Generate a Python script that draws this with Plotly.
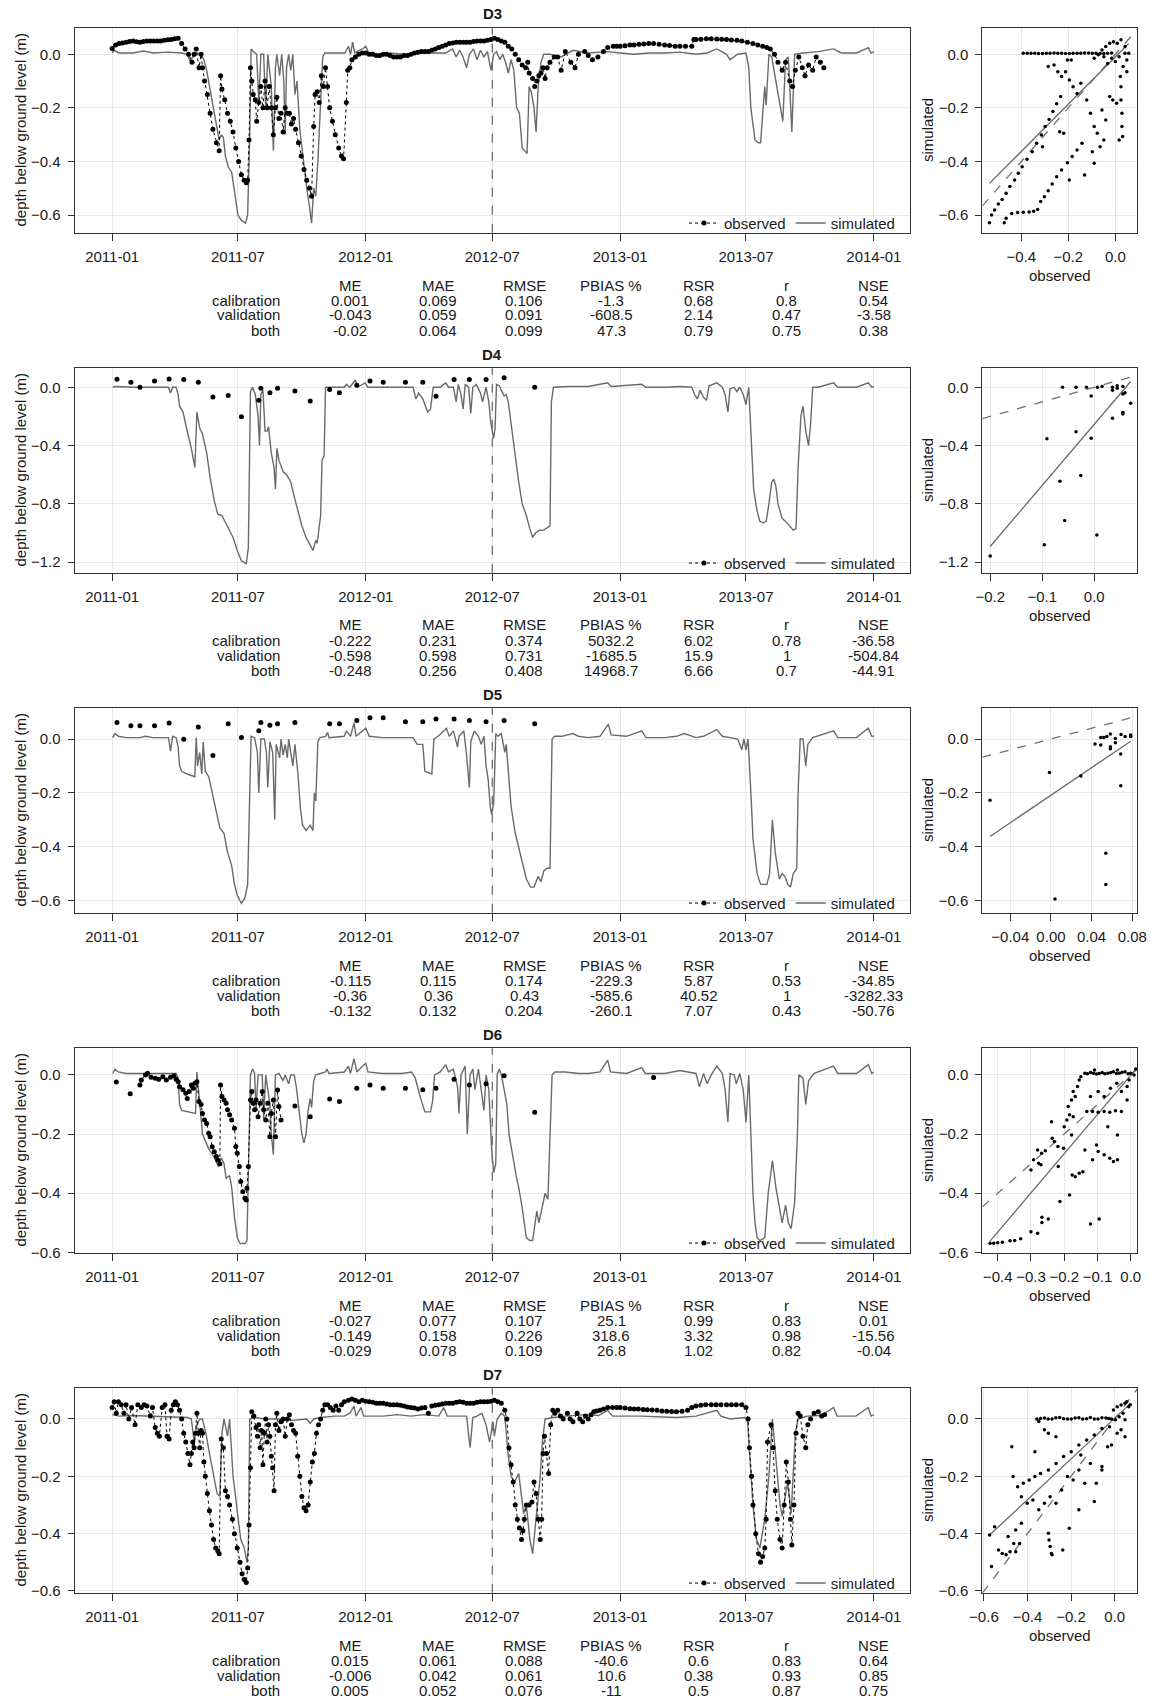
import pandas as pd
import plotly.graph_objects as go

W, H = 1151, 1701
FONT = "Liberation Sans, Arial, Helvetica, sans-serif"
DAY0 = pd.Timestamp("2011-01-01")

site_names = ["D3", "D4", "D5", "D6", "D7"]
x_tick_labels = ["2011-01", "2011-07", "2012-01", "2012-07", "2013-01", "2013-07", "2014-01"]
split_month = "2012-07"
stat_names = ["ME", "MAE", "RMSE", "PBIAS %", "RSR", "r", "NSE"]
period_names = ["calibration", "validation", "both"]

# ---------------- simulated series: (day since 2011-01-01, depth m) ----------------
d3_sim = [(0,0.005),(3,0.015),(10,0.005),(30,0.005),(45,0.012),(60,0.005),(80,0.008),(100,0.005),(108,0.0),(112,-0.025),
          (116,-0.01),(122,0.005),(128,0.0),(132,-0.02),(136,-0.06),(140,-0.12),(145,-0.2),(150,-0.27),(154,-0.32),(157,-0.3),
          (160,-0.31),(163,-0.38),(167,-0.42),(172,-0.44),(176,-0.52),(181,-0.6),(186,-0.62),(192,-0.63),(195,-0.6),(198,-0.3),
          (200,0.02),(203,0.01),(208,0.0),(211,-0.18),(214,0.0),(218,0.0),(221,-0.2),(224,0.0),(229,-0.12),(232,-0.36),
          (235,-0.05),(237,0.0),(241,-0.08),(244,0.0),(247,-0.1),(249,-0.3),(251,-0.05),(254,0.0),(257,-0.06),(260,0.0),
          (263,-0.15),(266,-0.1),(270,-0.28),(275,-0.4),(280,-0.5),(284,-0.57),(287,-0.63),(290,-0.5),(293,-0.53),(296,-0.4),
          (300,-0.15),(303,-0.01),(306,0.005),(320,0.005),(335,0.005),(340,0.03),(343,0.0),(346,0.045),(349,0.005),(360,0.02),
          (365,0.03),(370,0.0),(385,-0.01),(400,0.005),(420,0.0),(440,0.005),(460,0.005),(480,0.005),(490,0.02),(495,-0.01),
          (500,0.015),(505,-0.01),(510,-0.05),(514,0.0),(520,0.02),(525,-0.02),(530,0.015),(535,-0.01),(540,0.01),(545,-0.06),
          (549,0.0),(553,0.01),(558,-0.02),(562,0.0),(566,-0.03),(570,-0.07),(574,-0.02),(578,-0.06),(582,-0.2),(586,-0.22),
          (590,-0.35),(594,-0.36),(597,-0.37),(600,-0.12),(603,-0.14),(607,-0.2),(610,-0.29),(613,-0.12),(617,-0.03),(621,0.0),
          (630,0.0),(646,-0.01),(663,0.015),(685,0.005),(713,0.01),(731,0.005),(751,0.0),(773,0.005),(795,0.005),(817,0.008),
          (840,0.0),(856,0.005),(870,0.02),(884,0.0),(889,-0.02),(900,0.0),(912,0.005),(916,-0.05),(919,-0.2),(925,-0.32),
          (930,-0.33),(933,-0.33),(939,-0.12),(941,-0.19),(945,0.0),(949,-0.01),(955,-0.1),(961,-0.18),(965,-0.25),(969,-0.02),
          (973,-0.01),(978,-0.29),(982,0.0),(994,0.005),(1016,0.01),(1038,0.02),(1049,0.005),(1071,0.005),(1088,0.025),(1092,0.005),(1096,0.01)]

d4_sim = [(1,0.0),(4,0.005),(31,0.0),(59,0.0),(81,0.0),(84,-0.04),(87,0.0),(92,0.0),(95,-0.05),(97,-0.13),(102,-0.17),
          (108,-0.3),(114,-0.42),(119,-0.55),(122,-0.17),(126,-0.28),(130,-0.32),(136,-0.45),(141,-0.62),(147,-0.78),(152,-0.87),
          (158,-0.88),(163,-0.93),(169,-0.98),(174,-1.03),(180,-1.12),(186,-1.19),(193,-1.21),(196,-1.1),(199,-0.03),(202,0.0),
          (206,-0.05),(210,-0.2),(212,-0.4),(214,-0.05),(217,-0.02),(220,-0.3),(223,-0.3),(225,-0.27),(229,-0.45),(233,-0.55),
          (235,-0.7),(237,-0.42),(240,-0.5),(246,-0.58),(251,-0.6),(257,-0.65),(262,-0.75),(268,-0.87),(273,-0.95),(279,-1.03),
          (284,-1.08),(289,-1.12),(293,-1.05),(295,-1.07),(300,-0.88),(302,-0.5),(305,-0.47),(307,0.0),(312,0.0),(334,0.0),
          (337,0.02),(342,0.0),(350,0.05),(353,0.0),(364,0.03),(368,0.0),(389,0.0),(417,0.0),(433,0.0),(437,-0.08),(441,-0.04),
          (447,-0.08),(454,-0.17),(458,-0.15),(462,0.0),(472,0.0),(480,0.03),(484,0.0),(491,0.0),(495,-0.1),(498,0.02),(502,-0.05),
          (505,-0.15),(508,0.02),(513,0.0),(516,-0.18),(519,0.0),(524,0.02),(530,-0.04),(533,-0.1),(538,0.0),(542,-0.1),(545,-0.25),
          (549,-0.35),(551,-0.28),(553,0.02),(557,0.01),(561,-0.03),(564,-0.06),(567,-0.05),(570,-0.1),(574,-0.25),(579,-0.45),
          (585,-0.65),(590,-0.8),(596,-0.88),(601,-0.97),(605,-1.03),(609,-1.0),(615,-0.98),(621,-0.98),(627,-0.96),(630,-0.95),
          (632,-0.1),(635,0.0),(657,0.005),(685,0.005),(713,0.03),(718,0.005),(762,0.02),(768,0.0),(795,0.0),(817,0.005),(834,0.0),
          (838,-0.05),(842,-0.08),(846,-0.02),(851,-0.07),(855,-0.09),(859,0.01),(870,0.03),(878,0.0),(882,-0.05),(886,-0.17),
          (889,-0.01),(895,0.0),(899,-0.03),(903,0.0),(908,-0.05),(912,-0.12),(916,0.0),(920,-0.4),(923,-0.7),(928,-0.85),(932,-0.92),
          (937,-0.93),(941,-0.92),(945,-0.8),(949,-0.65),(952,-0.63),(955,-0.68),(958,-0.8),(964,-0.9),(969,-0.92),(975,-0.95),
          (980,-0.98),(984,-0.97),(987,-0.55),(991,-0.2),(994,-0.13),(998,-0.3),(1002,-0.4),(1005,-0.25),(1008,0.0),(1016,0.0),
          (1038,0.03),(1044,0.0),(1071,0.0),(1088,0.03),(1093,0.0),(1096,0.005)]

d5_sim = [(1,0.005),(4,0.02),(9,0.01),(20,0.005),(40,0.005),(48,0.01),(59,0.005),(81,0.005),(84,-0.045),(87,0.01),(92,0.005),
          (95,-0.03),(97,-0.1),(100,-0.12),(108,-0.13),(119,-0.14),(121,0.005),(123,-0.1),(126,-0.05),(129,-0.13),(131,-0.01),
          (134,-0.12),(139,-0.14),(144,-0.2),(150,-0.26),(155,-0.33),(161,-0.35),(166,-0.42),(172,-0.47),(176,-0.54),(180,-0.58),
          (186,-0.61),(191,-0.59),(195,-0.54),(198,-0.2),(200,0.01),(205,0.005),(209,-0.05),(211,-0.2),(214,0.0),(219,0.0),
          (222,-0.05),(224,-0.18),(227,-0.01),(231,-0.05),(234,-0.3),(236,-0.02),(241,-0.07),(243,0.0),(246,-0.06),(249,-0.02),
          (252,-0.07),(254,0.0),(257,-0.05),(260,-0.1),(263,-0.02),(267,-0.12),(271,-0.26),(274,-0.32),(279,-0.34),(285,-0.32),
          (289,-0.34),(291,-0.2),(293,-0.23),(296,-0.01),(299,0.005),(307,0.01),(310,0.025),(312,0.005),(334,0.01),(337,0.03),
          (343,0.01),(348,0.06),(351,0.01),(365,0.04),(370,0.01),(389,0.005),(417,0.005),(433,0.005),(439,-0.02),(447,-0.02),
          (450,-0.12),(460,-0.13),(463,0.0),(469,0.01),(477,0.03),(481,0.04),(485,0.01),(491,0.03),(497,-0.03),(499,0.01),(506,0.03),
          (510,-0.06),(514,-0.18),(516,-0.01),(521,0.03),(527,0.01),(531,-0.02),(535,0.01),(538,-0.1),(541,-0.15),(544,-0.25),
          (546,-0.28),(549,-0.24),(552,0.02),(555,0.01),(560,0.02),(565,-0.05),(567,-0.02),(571,-0.15),(574,-0.25),(580,-0.35),
          (585,-0.4),(591,-0.47),(596,-0.52),(602,-0.55),(607,-0.55),(613,-0.51),(617,-0.53),(621,-0.49),(626,-0.48),(630,-0.48),
          (633,0.0),(637,0.01),(647,0.01),(663,0.02),(671,0.01),(685,0.005),(702,0.01),(714,0.055),(718,0.015),(740,0.01),(762,0.03),
          (768,0.005),(795,0.005),(812,0.01),(823,0.02),(840,0.005),(851,0.01),(870,0.035),(878,0.01),(889,0.005),(900,0.0),
          (906,-0.04),(909,0.0),(912,-0.04),(915,0.0),(920,-0.25),(922,-0.37),(928,-0.5),(933,-0.54),(942,-0.54),(946,-0.5),
          (950,-0.3),(954,-0.42),(960,-0.52),(964,-0.5),(968,-0.51),(972,-0.54),(976,-0.55),(980,-0.5),(985,-0.48),(987,-0.2),
          (990,0.0),(994,0.0),(998,-0.1),(1001,-0.02),(1008,0.005),(1038,0.03),(1044,0.005),(1071,0.005),(1088,0.04),(1093,0.01),(1096,0.01)]

d6_sim = [(1,0.005),(4,0.02),(9,0.01),(20,0.005),(59,0.005),(92,0.005),(95,-0.01),(97,-0.1),(100,-0.12),(108,-0.125),
          (120,-0.13),(122,0.01),(125,-0.08),(130,-0.2),(139,-0.25),(147,-0.28),(153,-0.31),(157,-0.28),(161,-0.3),(164,-0.35),
          (169,-0.34),(172,-0.38),(176,-0.48),(180,-0.55),(184,-0.57),(191,-0.57),(194,-0.56),(196,-0.3),(199,0.0),(202,0.02),
          (205,0.005),(207,-0.12),(210,0.0),(216,0.0),(218,-0.15),(221,0.0),(227,-0.1),(229,-0.2),(232,-0.27),(235,0.0),
          (240,0.005),(246,-0.02),(249,0.0),(254,-0.03),(257,0.0),(262,0.0),(265,-0.04),(268,-0.1),(273,-0.2),(276,-0.23),
          (279,-0.2),(282,-0.12),(285,-0.08),(287,-0.11),(290,-0.02),(293,0.0),(307,0.01),(309,0.02),(312,0.005),(334,0.01),
          (340,0.03),(343,0.005),(348,0.055),(352,0.01),(365,0.04),(368,0.01),(389,0.005),(417,0.005),(431,0.01),(436,-0.01),
          (440,-0.05),(444,-0.08),(450,-0.125),(458,-0.125),(461,-0.09),(464,0.0),(472,0.01),(480,0.035),(484,0.01),(491,0.02),
          (497,-0.04),(499,-0.13),(502,0.0),(508,0.03),(511,-0.2),(515,0.0),(519,0.02),(522,-0.05),(527,0.02),(531,-0.05),
          (535,-0.12),(538,0.0),(542,-0.05),(546,-0.25),(549,-0.33),(552,-0.3),(554,0.0),(557,0.02),(560,0.0),(564,-0.05),
          (568,-0.1),(571,-0.2),(576,-0.27),(582,-0.35),(585,-0.38),(590,-0.45),(596,-0.55),(601,-0.56),(605,-0.56),(608,-0.5),
          (611,-0.46),(614,-0.5),(618,-0.45),(623,-0.4),(627,-0.42),(630,-0.2),(633,0.0),(637,0.01),(652,0.01),(671,0.005),
          (685,0.005),(702,0.01),(713,0.05),(717,0.01),(740,0.005),(762,0.025),(767,0.005),(795,0.005),(817,0.015),(840,0.005),
          (845,-0.04),(851,0.005),(856,-0.03),(862,0.0),(870,0.03),(878,0.005),(882,-0.05),(886,-0.16),(889,0.005),(895,0.0),
          (898,-0.03),(903,0.005),(908,-0.05),(912,-0.16),(916,0.0),(919,-0.2),(922,-0.4),(925,-0.5),(928,-0.55),(932,-0.56),
          (939,-0.55),(944,-0.4),(950,-0.29),(955,-0.38),(960,-0.45),(964,-0.5),(969,-0.44),(973,-0.5),(977,-0.52),(982,-0.43),
          (986,-0.2),(988,0.0),(994,-0.01),(998,-0.1),(1002,-0.02),(1010,0.005),(1038,0.03),(1044,0.005),(1071,0.005),(1088,0.035),
          (1093,0.005),(1096,0.01)]

d7_sim = [(0,0.015),(10,0.01),(30,0.012),(50,0.01),(70,0.01),(90,0.008),(108,0.005),(114,0.0),(118,-0.08),(122,-0.02),
          (126,0.0),(130,0.0),(135,-0.05),(140,-0.12),(146,-0.2),(151,-0.26),(155,-0.27),(158,-0.05),(161,0.0),(166,-0.06),
          (169,0.0),(174,-0.2),(180,-0.32),(185,-0.42),(190,-0.45),(194,-0.5),(196,-0.45),(198,0.0),(205,0.005),(220,0.0),
          (240,0.0),(260,-0.005),(280,0.0),(285,-0.015),(290,0.0),(300,0.005),(320,0.01),(334,0.01),(342,0.02),(348,0.045),
          (351,0.01),(358,0.04),(362,0.01),(370,0.01),(390,0.01),(410,0.015),(430,0.01),(450,0.015),(470,0.01),(477,0.04),
          (482,0.01),(495,0.01),(510,0.01),(515,-0.1),(519,0.005),(525,0.01),(532,0.02),(538,-0.02),(543,-0.08),(548,-0.01),
          (550,-0.06),(554,0.0),(560,0.02),(565,0.01),(570,-0.13),(574,-0.2),(579,-0.22),(585,-0.19),(588,-0.25),(592,-0.33),
          (596,-0.3),(601,-0.42),(605,-0.47),(608,-0.4),(612,-0.3),(616,-0.2),(619,-0.08),(623,0.0),(635,0.005),(652,0.01),
          (680,0.015),(700,0.012),(713,0.03),(720,0.01),(762,0.01),(790,0.008),(812,0.005),(840,0.01),(870,0.03),(876,0.01),
          (889,0.0),(911,0.005),(914,0.0),(918,-0.15),(922,-0.3),(927,-0.42),(932,-0.45),(939,-0.35),(945,-0.2),(950,0.0),
          (955,-0.15),(961,-0.3),(964,-0.34),(972,-0.22),(977,-0.33),(983,-0.05),(987,0.0),(1000,0.01),(1020,0.012),(1038,0.04),
          (1043,0.01),(1070,0.01),(1088,0.04),(1092,0.01),(1096,0.015)]

# ---------------- observed series: (day since 2011-01-01, depth m); (None, None) = gap ----------------
d3_obs = [(0,0.022),(5,0.035),(10,0.04),(15,0.042),(20,0.045),(25,0.048),(30,0.05),(35,0.047),(40,0.045),(45,0.048),(50,0.05),
          (55,0.05),(60,0.05),(65,0.05),(70,0.05),(75,0.052),(80,0.054),(85,0.055),(90,0.058),(95,0.06),
          (100,0.04),(105,0.02),(110,0.0),(115,-0.03),(118,0.0),(121,0.02),(125,-0.05),(128,0.0),(130,-0.05),(133,-0.1),(137,-0.15),
          (141,-0.22),(145,-0.28),(150,-0.33),(154,-0.36),(156,-0.08),(158,-0.13),(162,-0.17),(166,-0.22),(170,-0.25),(174,-0.29),
          (178,-0.35),(182,-0.4),(186,-0.45),(190,-0.47),(193,-0.48),(195,-0.47),(197,-0.32),(199,-0.05),(201,-0.1),(203,-0.15),
          (206,-0.17),(208,-0.25),(211,-0.18),(214,-0.12),(217,-0.2),(220,-0.1),(223,-0.2),(226,-0.12),(229,-0.2),(232,-0.3),
          (235,-0.2),(237,-0.16),(240,-0.24),(243,-0.22),(246,-0.29),(249,-0.2),(252,-0.22),(255,-0.22),(258,-0.26),(261,-0.24),
          (264,-0.28),(268,-0.33),(272,-0.38),(276,-0.43),(280,-0.47),(284,-0.5),(287,-0.53),(290,-0.27),(292,-0.15),(295,-0.14),
          (298,-0.18),(301,-0.08),(304,-0.12),(307,-0.05),(310,-0.12),(313,-0.2),(317,-0.25),(321,-0.3),(326,-0.35),(330,-0.38),
          (333,-0.39),(337,-0.18),(339,-0.06),(342,-0.05),(345,-0.02),(350,-0.01),(355,0.0),(360,0.005),(365,0.005),(370,0.0),
          (375,0.0),(380,-0.005),(385,-0.005),(390,0.0),(395,0.0),(400,-0.005),(405,-0.01),(410,-0.01),(415,-0.01),(420,-0.005),
          (425,-0.005),(430,0.0),(435,0.005),(440,0.008),(445,0.01),(450,0.01),(455,0.01),(460,0.015),(465,0.02),(470,0.025),
          (475,0.03),(480,0.035),(485,0.04),(490,0.042),(495,0.045),(500,0.045),(505,0.045),(510,0.045),(515,0.045),(520,0.048),
          (525,0.05),(530,0.05),(535,0.05),(540,0.052),(545,0.055),(550,0.06),(555,0.055),(560,0.05),(565,0.045),(570,0.03),
          (575,0.02),(580,0.0),(585,-0.02),(590,-0.04),(595,-0.05),(598,-0.03),(600,-0.07),(605,-0.09),(608,-0.12),(611,-0.1),
          (614,-0.08),(617,-0.07),(620,-0.05),(623,-0.09),(626,-0.05),(630,-0.03),(636,-0.01),(641,-0.01),(646,-0.06),(652,0.01),
          (660,-0.03),(666,-0.05),(671,0.0),(680,0.01),(685,-0.005),(691,-0.02),(699,-0.01),(707,0.01),(713,0.025),(721,0.03),
          (726,0.03),(731,0.03),(738,0.032),(745,0.035),(751,0.035),(758,0.037),(765,0.038),(772,0.04),(779,0.04),(787,0.037),
          (795,0.035),(802,0.033),(810,0.03),(817,0.03),(825,0.03),(834,0.03),(837,0.055),(840,0.055),(847,0.056),(855,0.058),
          (862,0.058),(870,0.057),(877,0.056),(884,0.055),(891,0.053),(899,0.052),(906,0.05),(914,0.045),(922,0.04),(929,0.035),
          (936,0.03),(942,0.025),(947,0.02),(953,0.0),(958,-0.03),(964,-0.06),(969,-0.03),(975,-0.1),(979,-0.12),(983,-0.06),
          (988,-0.01),(993,-0.05),(997,-0.08),(1002,-0.04),(1008,-0.06),(1013,-0.01),(1019,-0.03),(1024,-0.05)]

d4_obs = [(7,0.055),(27,0.034),(40,0.0),(61,0.043),(82,0.057),(103,0.053),(124,0.034),(145,-0.066),(167,-0.057),(186,-0.203),
          (211,-0.089),(214,-0.007),(227,-0.037),(238,-0.007),(263,-0.025),(285,-0.094),(313,-0.016),(327,-0.037),(352,0.014),
          (371,0.043),(390,0.034),(422,0.034),(447,0.034),(466,-0.062),(492,0.053),(514,0.053),(538,0.053),(564,0.066),(608,0.0)]

d5_obs = [(7,0.061),(27,0.049),(40,0.049),(61,0.049),(82,0.059),(103,-0.001),(124,0.045),(145,-0.061),(167,0.057),(186,0.006),
          (211,0.031),(214,0.061),(227,0.051),(238,0.057),(263,0.061),(313,0.057),(327,0.057),(352,0.069),(371,0.079),(390,0.079),
          (422,0.064),(447,0.064),(466,0.074),(492,0.074),(514,0.069),(538,0.064),(564,0.069),(608,0.057)]

d6_obs = [(6,-0.024),(None,None),(26,-0.064),(None,None),
          (40,-0.034),(42,-0.017),(48,0.0),(51,0.006),(56,-0.008),(62,-0.011),(67,-0.015),(73,-0.006),(78,-0.017),(84,-0.008),
          (89,-0.003),(92,-0.015),(95,-0.023),(97,-0.04),(102,-0.05),(106,-0.062),(108,-0.08),(111,-0.056),(114,-0.034),(117,-0.045),
          (119,-0.028),(122,-0.023),(125,-0.09),(128,-0.1),(130,-0.13),(133,-0.152),(136,-0.164),(139,-0.197),(141,-0.209),
          (144,-0.243),(147,-0.26),(150,-0.276),(152,-0.288),(155,-0.3),(156,-0.034),(158,-0.073),(161,-0.085),(164,-0.096),
          (166,-0.118),(169,-0.135),(172,-0.152),(176,-0.18),(178,-0.242),(180,-0.265),(183,-0.31),(185,-0.36),(188,-0.395),
          (191,-0.417),(193,-0.423),(194,-0.383),(196,-0.31),(199,-0.085),(201,-0.056),(203,-0.096),(205,-0.118),(207,-0.085),
          (210,-0.141),(213,-0.096),(216,-0.056),(218,-0.118),(221,-0.152),(224,-0.096),(227,-0.209),(229,-0.13),(232,-0.085),
          (235,-0.209),(238,-0.051),(240,-0.107),(243,-0.152),(None,None),
          (263,-0.105),(None,None),(285,-0.141),(None,None),(313,-0.081),(None,None),(327,-0.09),(None,None),(352,-0.045),(None,None),
          (371,-0.034),(None,None),(390,-0.045),(None,None),(422,-0.045),(None,None),(447,-0.05),(None,None),(466,-0.045),(None,None),
          (492,-0.015),(None,None),(514,-0.034),(None,None),(538,-0.03),(None,None),(564,-0.003),(None,None),(608,-0.126),(None,None),
          (779,-0.009)]

d7_obs = [(0,0.04),(3,0.06),(6,0.02),(9,0.06),(13,0.05),(17,0.02),(20,0.05),(24,0.0),(28,0.04),(33,-0.02),(37,0.05),(42,0.04),
          (46,0.05),(50,0.045),(55,0.01),(58,0.04),(62,-0.03),(65,-0.05),(68,-0.06),(72,0.04),(76,0.05),(79,-0.06),(82,-0.07),
          (85,0.03),(88,0.05),(91,0.06),(94,0.05),(97,0.03),(100,0.0),(103,-0.05),(106,-0.08),(109,-0.12),(112,-0.16),(114,-0.12),
          (116,-0.08),(118,-0.1),(120,-0.05),(122,0.02),(124,-0.05),(126,-0.1),(128,-0.04),(130,-0.05),(132,-0.15),(134,-0.2),
          (137,-0.26),(140,-0.32),(143,-0.37),(146,-0.42),(149,-0.45),(152,-0.46),(154,-0.47),(157,-0.07),(160,-0.1),(163,-0.25),
          (166,-0.27),(169,-0.3),(173,-0.35),(176,-0.4),(180,-0.45),(184,-0.5),(187,-0.54),(190,-0.56),(193,-0.57),(195,-0.52),
          (197,-0.37),(199,-0.17),(201,0.025),(204,0.01),(207,-0.03),(209,-0.06),(211,-0.02),(213,-0.1),(215,-0.04),(217,-0.16),
          (219,-0.05),(221,0.0),(223,-0.08),(225,-0.02),(227,-0.06),(229,-0.13),(231,-0.17),(233,-0.25),(235,-0.02),(237,0.02),
          (240,-0.04),(243,-0.01),(246,0.0),(249,-0.06),(252,0.0),(255,0.015),(258,-0.02),(261,-0.04),(264,-0.05),(267,-0.13),
          (270,-0.2),(273,-0.27),(276,-0.31),(279,-0.32),(282,-0.3),(285,-0.22),(288,-0.15),(291,-0.12),(294,-0.05),(297,-0.02),
          (300,0.0),(303,0.03),(306,0.05),(310,0.05),(314,0.04),(318,0.03),(322,0.045),(326,0.03),(330,0.05),(334,0.06),(340,0.065),
          (345,0.07),(350,0.065),(355,0.06),(360,0.065),(365,0.062),(370,0.06),(375,0.058),(380,0.055),(385,0.055),(390,0.055),
          (395,0.052),(400,0.05),(405,0.05),(410,0.05),(415,0.048),(420,0.045),(425,0.042),(430,0.04),(435,0.038),(440,0.035),
          (445,0.038),(450,0.04),(455,0.02),(460,0.045),(465,0.048),(470,0.05),(475,0.052),(480,0.055),(485,0.055),(490,0.055),
          (495,0.058),(500,0.06),(505,0.058),(510,0.055),(515,0.055),(520,0.055),(525,0.058),(530,0.06),(535,0.06),(540,0.06),
          (545,0.062),(550,0.065),(555,0.06),(560,0.055),(565,0.03),(568,0.0),(571,-0.1),(574,-0.16),(577,-0.22),(580,-0.3),
          (583,-0.35),(586,-0.38),(589,-0.42),(591,-0.39),(593,-0.35),(596,-0.3),(600,-0.3),(604,-0.29),(607,-0.22),(610,-0.26),
          (613,-0.35),(616,-0.42),(618,-0.35),(620,-0.12),(622,-0.06),(625,-0.12),(628,-0.19),(631,-0.02),(634,0.03),(637,0.02),
          (641,0.03),(645,0.01),(649,0.0),(655,0.02),(659,0.0),(663,-0.01),(669,0.02),(673,0.0),(677,-0.01),(681,0.01),(685,0.0),
          (689,0.015),(693,0.025),(697,0.028),(702,0.03),(707,0.035),(713,0.04),(720,0.04),(726,0.04),(731,0.04),(738,0.038),
          (745,0.036),(751,0.035),(757,0.035),(764,0.033),(770,0.032),(777,0.031),(784,0.03),(791,0.028),(798,0.027),(805,0.026),
          (812,0.025),(820,0.027),(828,0.03),(834,0.04),(840,0.045),(847,0.048),(854,0.05),(862,0.05),(869,0.05),(876,0.05),
          (884,0.05),(891,0.05),(898,0.05),(906,0.05),(912,0.04),(915,0.0),(917,-0.1),(920,-0.2),(922,-0.3),(926,-0.4),(930,-0.47),
          (933,-0.5),(936,-0.48),(939,-0.45),(941,-0.35),(943,-0.08),(948,-0.02),(951,-0.1),(954,-0.25),(957,-0.35),(961,-0.42),
          (964,-0.45),(967,-0.3),(970,-0.15),(973,-0.22),(976,-0.35),(978,-0.44),(981,-0.3),(984,-0.05),(987,0.02),(990,0.01),
          (994,-0.06),(998,-0.1),(1001,-0.02),(1005,0.0),(1010,0.02),(1016,0.025),(1021,0.01),(1025,0.015)]

# ---------------- scatter panels: (observed, simulated) ----------------
d3_scatter = [(-0.392,0.004),(-0.359,0.004),(-0.327,0.003),(-0.294,0.004),(-0.261,0.005),(-0.229,0.004),(-0.196,0.003),
              (-0.163,0.004),(-0.131,0.005),(-0.098,0.004),(-0.065,0.003),(-0.033,0.004),(-0.016,0.005),
              (-0.375,0.004),(-0.343,0.004),(-0.31,0.003),(-0.278,0.004),(-0.245,0.004),(-0.212,0.003),(-0.18,0.004),
              (-0.147,0.004),(-0.114,0.005),(-0.082,0.004),(-0.049,0.003),
              (-0.057,0.016),(-0.041,0.029),(-0.024,0.041),(-0.008,0.047),(0.008,0.041),(0.024,0.054),(0.041,0.029),(0.057,0.004),
              (0.049,-0.021),(0.033,-0.046),(0.016,-0.009),(0.0,-0.027),(-0.016,-0.015),(-0.033,-0.034),(-0.049,-0.009),
              (-0.073,-0.002),(-0.09,-0.015),(0.049,-0.065),(0.041,0.004),
              (-0.536,-0.629),(-0.527,-0.6),(-0.514,-0.581),(-0.498,-0.559),(-0.482,-0.542),(-0.465,-0.519),(-0.449,-0.494),
              (-0.429,-0.469),(-0.413,-0.444),(-0.397,-0.42),(-0.376,-0.392),(-0.354,-0.364),(-0.335,-0.332),(-0.315,-0.301),
              (-0.299,-0.27),(-0.282,-0.243),(-0.266,-0.214),(-0.25,-0.185),(-0.233,-0.158),
              (-0.473,-0.629),(-0.465,-0.612),(-0.441,-0.594),(-0.416,-0.591),(-0.392,-0.59),(-0.367,-0.589),(-0.348,-0.586),
              (-0.331,-0.579),(-0.318,-0.55),(-0.302,-0.532),(-0.286,-0.509),(-0.269,-0.484),(-0.25,-0.457),(-0.229,-0.432),
              (-0.204,-0.405),(-0.184,-0.382),(-0.163,-0.357),(-0.142,-0.332),
              (-0.286,-0.046),(-0.261,-0.04),(-0.245,-0.065),(-0.229,-0.083),(-0.212,-0.065),(-0.196,-0.096),(-0.18,-0.121),
              (-0.163,-0.146),(-0.147,-0.108),(-0.122,-0.171),(-0.106,-0.22),(-0.09,-0.27),(-0.077,-0.295),(-0.057,-0.208),
              (-0.041,-0.245),(-0.024,-0.158),(-0.011,-0.171),(0.005,-0.183),(0.021,-0.083),(0.024,-0.121),(0.024,-0.171),
              (0.028,-0.22),(0.028,-0.27),(0.031,-0.307),(0.016,-0.32),(-0.131,-0.451),(-0.196,-0.469),(-0.09,-0.407),
              (-0.065,-0.345),(-0.049,-0.32),(-0.098,-0.364),(-0.22,-0.295),(-0.237,-0.289),(-0.31,-0.345),(-0.204,-0.021),(-0.188,-0.021)]

d4_scatter = [(-0.061,0.0),(-0.035,0.0),(-0.015,0.0),(-0.006,-0.06),(0.006,0.0),(0.015,0.005),(0.035,0.0),(0.035,-0.02),
              (0.044,0.01),(0.044,-0.007),(0.055,0.005),(0.055,-0.046),(0.059,-0.037),(0.035,-0.213),(0.055,-0.174),(0.055,-0.183),
              (0.07,-0.11),(-0.091,-0.354),(-0.035,-0.306),(-0.006,-0.35),(-0.026,-0.606),(-0.066,-0.645),(-0.057,-0.914),
              (-0.096,-1.081),(0.005,-1.013),(-0.2,-1.157)]

d5_scatter = [(-0.06,-0.227),(-0.0015,-0.124),(0.0294,-0.137),(0.004,-0.594),(0.054,-0.424),(0.054,-0.54),(0.0687,-0.174),
              (0.0687,-0.056),(0.0434,-0.019),(0.049,-0.022),(0.049,0.006),(0.052,0.006),(0.055,0.009),(0.0585,0.019),
              (0.0585,-0.029),(0.0585,-0.036),(0.0634,0.002),(0.0634,-0.014),(0.069,0.017),(0.073,0.009),(0.0785,0.015),(0.0785,0.009)]

d6_scatter = [(-0.423,-0.569),(-0.412,-0.569),(-0.4,-0.567),(-0.386,-0.566),(-0.363,-0.561),(-0.349,-0.56),(-0.331,-0.554),
              (-0.3,-0.53),(-0.28,-0.535),(-0.267,-0.481),(-0.267,-0.499),(-0.248,-0.487),(-0.213,-0.428),(-0.184,-0.406),
              (-0.121,-0.504),(-0.095,-0.487),(-0.28,-0.254),(-0.268,-0.265),(-0.257,-0.256),(-0.292,-0.287),(-0.277,-0.299),
              (-0.236,-0.214),(-0.23,-0.225),(-0.219,-0.242),(-0.218,-0.31),(-0.202,-0.248),(-0.238,-0.158),(-0.2,-0.175),
              (-0.192,-0.152),(-0.188,-0.107),(-0.178,-0.085),(-0.173,-0.056),(-0.167,-0.073),(-0.16,-0.039),(-0.155,-0.017),
              (-0.15,-0.006),(-0.176,-0.338),(-0.167,-0.344),(-0.155,-0.332),(-0.144,-0.327),(-0.184,-0.135),(-0.173,-0.141),
              (-0.138,0.006),(-0.121,0.008),(-0.103,0.003),(-0.086,0.008),(-0.069,0.006),(-0.052,0.011),(-0.034,0.006),
              (-0.017,0.011),(0.0,0.006),(-0.109,0.017),(-0.04,0.017),(0.01,0.0),(0.015,0.02),
              (-0.13,0.004),(-0.112,0.006),(-0.095,0.005),(-0.078,0.004),(-0.06,0.008),(-0.043,0.005),(-0.026,0.009),(-0.008,0.004),
              (-0.132,-0.124),(-0.115,-0.124),(-0.098,-0.126),(-0.08,-0.124),(-0.063,-0.126),(-0.046,-0.121),(-0.028,-0.124),
              (-0.121,-0.073),(-0.098,-0.056),(-0.08,-0.073),(-0.061,-0.045),(-0.042,-0.028),(-0.028,-0.056),(-0.011,-0.039),
              (-0.005,-0.017),(-0.04,-0.203),(-0.069,-0.175),(-0.103,-0.237),(-0.098,-0.259),(-0.08,-0.27),(-0.063,-0.282),
              (-0.052,-0.293),(-0.04,-0.287),(-0.115,-0.287),(-0.138,-0.254),(-0.178,-0.203),(-0.27,-0.304),(-0.3,-0.321),(-0.011,-0.085)]

d7_scatter = [(-0.357,0.0),(-0.322,0.003),(-0.287,0.0),(-0.252,0.005),(-0.216,0.0),(-0.181,0.003),(-0.146,0.0),(-0.111,0.005),
              (-0.076,0.0),(-0.04,0.003),(-0.014,0.0),(-0.34,0.002),(-0.305,0.0),(-0.27,0.004),(-0.234,0.001),(-0.199,0.0),
              (-0.164,0.004),(-0.128,0.001),(-0.093,0.0),(-0.058,0.004),(-0.027,0.002),
              (-0.005,0.031),(0.012,0.043),(0.03,0.049),(0.048,0.055),(0.056,0.06),(0.065,0.043),(0.039,0.02),(0.021,0.008),
              (0.004,-0.003),(0.048,-0.003),(0.03,-0.038),(0.048,-0.062),(0.012,-0.05),(-0.023,-0.027),(0.072,0.05),
              (-0.322,-0.038),(-0.304,-0.05),(-0.269,-0.062),(-0.348,-0.009),(-0.366,-0.114),(-0.472,-0.097),(-0.466,-0.201),
              (-0.445,-0.236),(-0.419,-0.224),(-0.392,-0.213),(-0.366,-0.201),(-0.34,-0.19),(-0.304,-0.178),(-0.269,-0.155),
              (-0.234,-0.131),(-0.199,-0.114),(-0.164,-0.091),(-0.128,-0.073),(-0.093,-0.056),(-0.058,-0.033),
              (-0.428,-0.271),(-0.401,-0.294),(-0.375,-0.283),(-0.348,-0.317),(-0.322,-0.294),(-0.296,-0.271),(-0.269,-0.294),
              (-0.243,-0.248),(-0.216,-0.201),(-0.19,-0.213),(-0.164,-0.178),(-0.137,-0.224),(-0.111,-0.155),(-0.084,-0.224),
              (-0.058,-0.178),(-0.032,-0.097),
              (-0.574,-0.405),(-0.565,-0.515),(-0.551,-0.376),(-0.533,-0.457),(-0.516,-0.469),(-0.498,-0.474),(-0.48,-0.463),
              (-0.463,-0.434),(-0.454,-0.463),(-0.436,-0.434),(-0.489,-0.41),(-0.454,-0.387),(-0.428,-0.364),
              (-0.304,-0.399),(-0.301,-0.422),(-0.296,-0.445),(-0.29,-0.469),(-0.287,-0.474),(-0.238,-0.457),
              (-0.208,-0.381),(-0.164,-0.317),(-0.093,-0.288),(-0.058,-0.166),(-0.014,-0.091),(-0.155,-0.126)]

# linear fit of simulated on observed (slope, intercept)
fit_slope = [0.88, 4.19, 2.555, 1.3256, 0.71]
fit_intercept = [-0.0102, -0.254, -0.2087, -0.001, 0.0025]

# goodness-of-fit tables: rows calibration / validation / both; cols = stat_names
d3_stats = [[0.001, 0.069, 0.106, -1.3, 0.68, 0.8, 0.54],
            [-0.043, 0.059, 0.091, -608.5, 2.14, 0.47, -3.58],
            [-0.02, 0.064, 0.099, 47.3, 0.79, 0.75, 0.38]]
d4_stats = [[-0.222, 0.231, 0.374, 5032.2, 6.02, 0.78, -36.58],
            [-0.598, 0.598, 0.731, -1685.5, 15.9, 1, -504.84],
            [-0.248, 0.256, 0.408, 14968.7, 6.66, 0.7, -44.91]]
d5_stats = [[-0.115, 0.115, 0.174, -229.3, 5.87, 0.53, -34.85],
            [-0.36, 0.36, 0.43, -585.6, 40.52, 1, -3282.33],
            [-0.132, 0.132, 0.204, -260.1, 7.07, 0.43, -50.76]]
d6_stats = [[-0.027, 0.077, 0.107, 25.1, 0.99, 0.83, 0.01],
            [-0.149, 0.158, 0.226, 318.6, 3.32, 0.98, -15.56],
            [-0.029, 0.078, 0.109, 26.8, 1.02, 0.82, -0.04]]
d7_stats = [[0.015, 0.061, 0.088, -40.6, 0.6, 0.83, 0.64],
            [-0.006, 0.042, 0.061, 10.6, 0.38, 0.93, 0.85],
            [0.005, 0.052, 0.076, -11, 0.5, 0.87, 0.75]]

# ---------------- axis settings per panel ----------------
ts_y_range = [[-0.666, 0.097], [-1.272, 0.130], [-0.645, 0.114], [-0.601, 0.090], [-0.606, 0.107]]
ts_y_ticks = [[0.0, -0.2, -0.4, -0.6], [0.0, -0.4, -0.8, -1.2], [0.0, -0.2, -0.4, -0.6],
              [0.0, -0.2, -0.4, -0.6], [0.0, -0.2, -0.4, -0.6]]
sc_x_range = [[-0.566, 0.093], [-0.215, 0.0825], [-0.0675, 0.0849], [-0.446, 0.0194], [-0.607, 0.104]]
sc_x_ticks = [[-0.4, -0.2, 0.0], [-0.2, -0.1, 0.0], [-0.04, 0.0, 0.04, 0.08],
              [-0.4, -0.3, -0.2, -0.1, 0.0], [-0.6, -0.4, -0.2, 0.0]]
sc_x_fmt = [".1f", ".1f", ".2f", ".1f", ".1f"]
site_obs_connected = [True, False, False, True, True]

sims = [d3_sim, d4_sim, d5_sim, d6_sim, d7_sim]
obss = [d3_obs, d4_obs, d5_obs, d6_obs, d7_obs]
scatters = [d3_scatter, d4_scatter, d5_scatter, d6_scatter, d7_scatter]
stats = [d3_stats, d4_stats, d5_stats, d6_stats, d7_stats]

# ---------------- geometry (pixels) ----------------
TS_L, TS_R = 74.6, 910.3
SC_L, SC_R = 982.4, 1137.2
TOP0, PITCH, PH = 28.3, 340.0, 204.4
COL_X = [350.2, 438.2, 524.3, 611.3, 698.7, 786.5, 873.9]
ROWLAB_X = 282.4

def px(x):
    return x / W

def py(y):
    return 1 - y / H

def to_date(d):
    return None if d is None else DAY0 + pd.Timedelta(days=d)

SIM_COL = "#6a6a6a"
AX_COL = "#333333"
GRID_COL = "#e8e8e8"
TXT_COL = "#1a1a1a"
tickfont = dict(family=FONT, size=15, color=TXT_COL)

fig = go.Figure()
layout = dict(template="none", width=W, height=H, margin=dict(l=0, r=0, t=0, b=0, pad=0), autosize=False,
              paper_bgcolor="white", plot_bgcolor="white",
              font=dict(family=FONT, size=15, color=TXT_COL), annotations=[], shapes=[])

x_tick_vals = [pd.Timestamp(t + "-01") for t in x_tick_labels]

def axis_common():
    return dict(showline=True, linecolor=AX_COL, linewidth=1, mirror=True, ticks="outside",
                tickcolor=AX_COL, tickwidth=1, showgrid=True, gridcolor=GRID_COL, gridwidth=1,
                zeroline=False, tickfont=tickfont, automargin=False)

for k, name in enumerate(site_names):
    T = TOP0 + PITCH * k
    B = T + PH
    ydom = [py(B), py(T)]
    ti, si = 2 * k + 1, 2 * k + 2
    tx = "x" if ti == 1 else f"x{ti}"
    ty = "y" if ti == 1 else f"y{ti}"
    sx, sy = f"x{si}", f"y{si}"
    lg = "legend" if k == 0 else f"legend{k + 1}"

    layout["xaxis" if ti == 1 else f"xaxis{ti}"] = dict(
        axis_common(), type="date", domain=[px(TS_L), px(TS_R)], anchor=ty,
        range=[pd.Timestamp("2010-11-08"), pd.Timestamp("2014-02-22 10:00")],
        tickvals=x_tick_vals, ticktext=x_tick_labels, ticklen=7, ticklabelstandoff=3)
    layout["yaxis" if ti == 1 else f"yaxis{ti}"] = dict(
        axis_common(), domain=ydom, anchor=tx, range=ts_y_range[k],
        tickvals=ts_y_ticks[k], tickformat=".1f", ticklen=6, ticklabelstandoff=4)
    layout[f"xaxis{si}"] = dict(
        axis_common(), domain=[px(SC_L), px(SC_R)], anchor=sy, range=sc_x_range[k],
        tickvals=sc_x_ticks[k], tickformat=sc_x_fmt[k], ticklen=7, ticklabelstandoff=3)
    layout[f"yaxis{si}"] = dict(
        axis_common(), domain=ydom, anchor=sx, range=ts_y_range[k],
        tickvals=ts_y_ticks[k], tickformat=".1f", ticklen=6, ticklabelstandoff=4)

    sd, sv = zip(*sims[k])
    fig.add_trace(go.Scatter(x=[to_date(d) for d in sd], y=list(sv), mode="lines", name="simulated",
                             line=dict(color=SIM_COL, width=1.4), xaxis=tx, yaxis=ty,
                             legend=lg, legendrank=2))
    pts = obss[k]
    if not site_obs_connected[k]:
        sep = []
        for p in pts:
            sep += [p, (None, None)]
        pts = sep
    od = [to_date(p[0]) for p in pts]
    ov = [p[1] for p in pts]
    fig.add_trace(go.Scatter(x=od, y=ov, mode="lines+markers", name="observed", connectgaps=False,
                             line=dict(color="black", width=1, dash="dot"),
                             marker=dict(color="black", size=5), xaxis=tx, yaxis=ty,
                             legend=lg, legendrank=1))

    layout["shapes"].append(dict(type="line", xref=tx, yref=f"{ty} domain",
                                 x0=pd.Timestamp(split_month + "-01"), x1=pd.Timestamp(split_month + "-01"),
                                 y0=0, y1=1, line=dict(color="#707070", width=1.3, dash="dash")))

    layout[lg] = dict(orientation="h", x=px(900), xanchor="right", y=py(T + 195), yanchor="middle",
                      bgcolor="rgba(0,0,0,0)", borderwidth=0, font=dict(family=FONT, size=15, color=TXT_COL),
                      traceorder="normal", itemwidth=30)

    so, ss = zip(*scatters[k])
    xr = sc_x_range[k]
    fig.add_trace(go.Scatter(x=[xr[0], xr[1]], y=[xr[0], xr[1]], mode="lines", showlegend=False,
                             line=dict(color="#707070", width=1.3, dash="dash"), xaxis=sx, yaxis=sy, hoverinfo="skip"))
    lo, hi = min(so), max(so)
    fig.add_trace(go.Scatter(x=[lo, hi], y=[fit_intercept[k] + fit_slope[k] * lo, fit_intercept[k] + fit_slope[k] * hi],
                             mode="lines", showlegend=False, line=dict(color=SIM_COL, width=1.3),
                             xaxis=sx, yaxis=sy, hoverinfo="skip"))
    fig.add_trace(go.Scatter(x=list(so), y=list(ss), mode="markers", showlegend=False,
                             marker=dict(color="black", size=3.5), xaxis=sx, yaxis=sy))

    ann = layout["annotations"]
    ann.append(dict(text=f"<b>{name}</b>", x=px((TS_L + TS_R) / 2), y=py(T - 14.3), xref="paper", yref="paper",
                    showarrow=False, xanchor="center", yanchor="middle", font=dict(size=15)))
    ann.append(dict(text="depth below ground level (m)", x=px(20), y=py(T + PH / 2), xref="paper", yref="paper",
                    showarrow=False, textangle=-90, xanchor="center", yanchor="middle", font=dict(size=15)))
    ann.append(dict(text="simulated", x=px(927.5), y=py(T + PH / 2), xref="paper", yref="paper",
                    showarrow=False, textangle=-90, xanchor="center", yanchor="middle", font=dict(size=15)))
    ann.append(dict(text="observed", x=px((SC_L + SC_R) / 2), y=py(T + 247.5), xref="paper", yref="paper",
                    showarrow=False, xanchor="center", yanchor="middle", font=dict(size=15)))

    for j, sname in enumerate(stat_names):
        ann.append(dict(text=sname, x=px(COL_X[j]), y=py(T + 256.7), xref="paper", yref="paper",
                        showarrow=False, xanchor="center", yanchor="middle", font=dict(size=15)))
    for r, pname in enumerate(period_names):
        yy = py(T + 271.7 + 15 * r)
        ann.append(dict(text=pname, x=px(ROWLAB_X), y=yy, xref="paper", yref="paper",
                        showarrow=False, xanchor="right", yanchor="middle", font=dict(size=15)))
        for j, v in enumerate(stats[k][r]):
            ann.append(dict(text=f"{v:g}", x=px(COL_X[j]), y=yy, xref="paper", yref="paper",
                            showarrow=False, xanchor="center", yanchor="middle", font=dict(size=15)))

fig.update_layout(**layout)
# remove the browser's default 8px body margin so the figure sits flush in the window; hide the mode bar
fig.write_html("out.html", config={"displayModeBar": False},
               post_script="document.body.style.margin='0';document.body.style.padding='0';")
